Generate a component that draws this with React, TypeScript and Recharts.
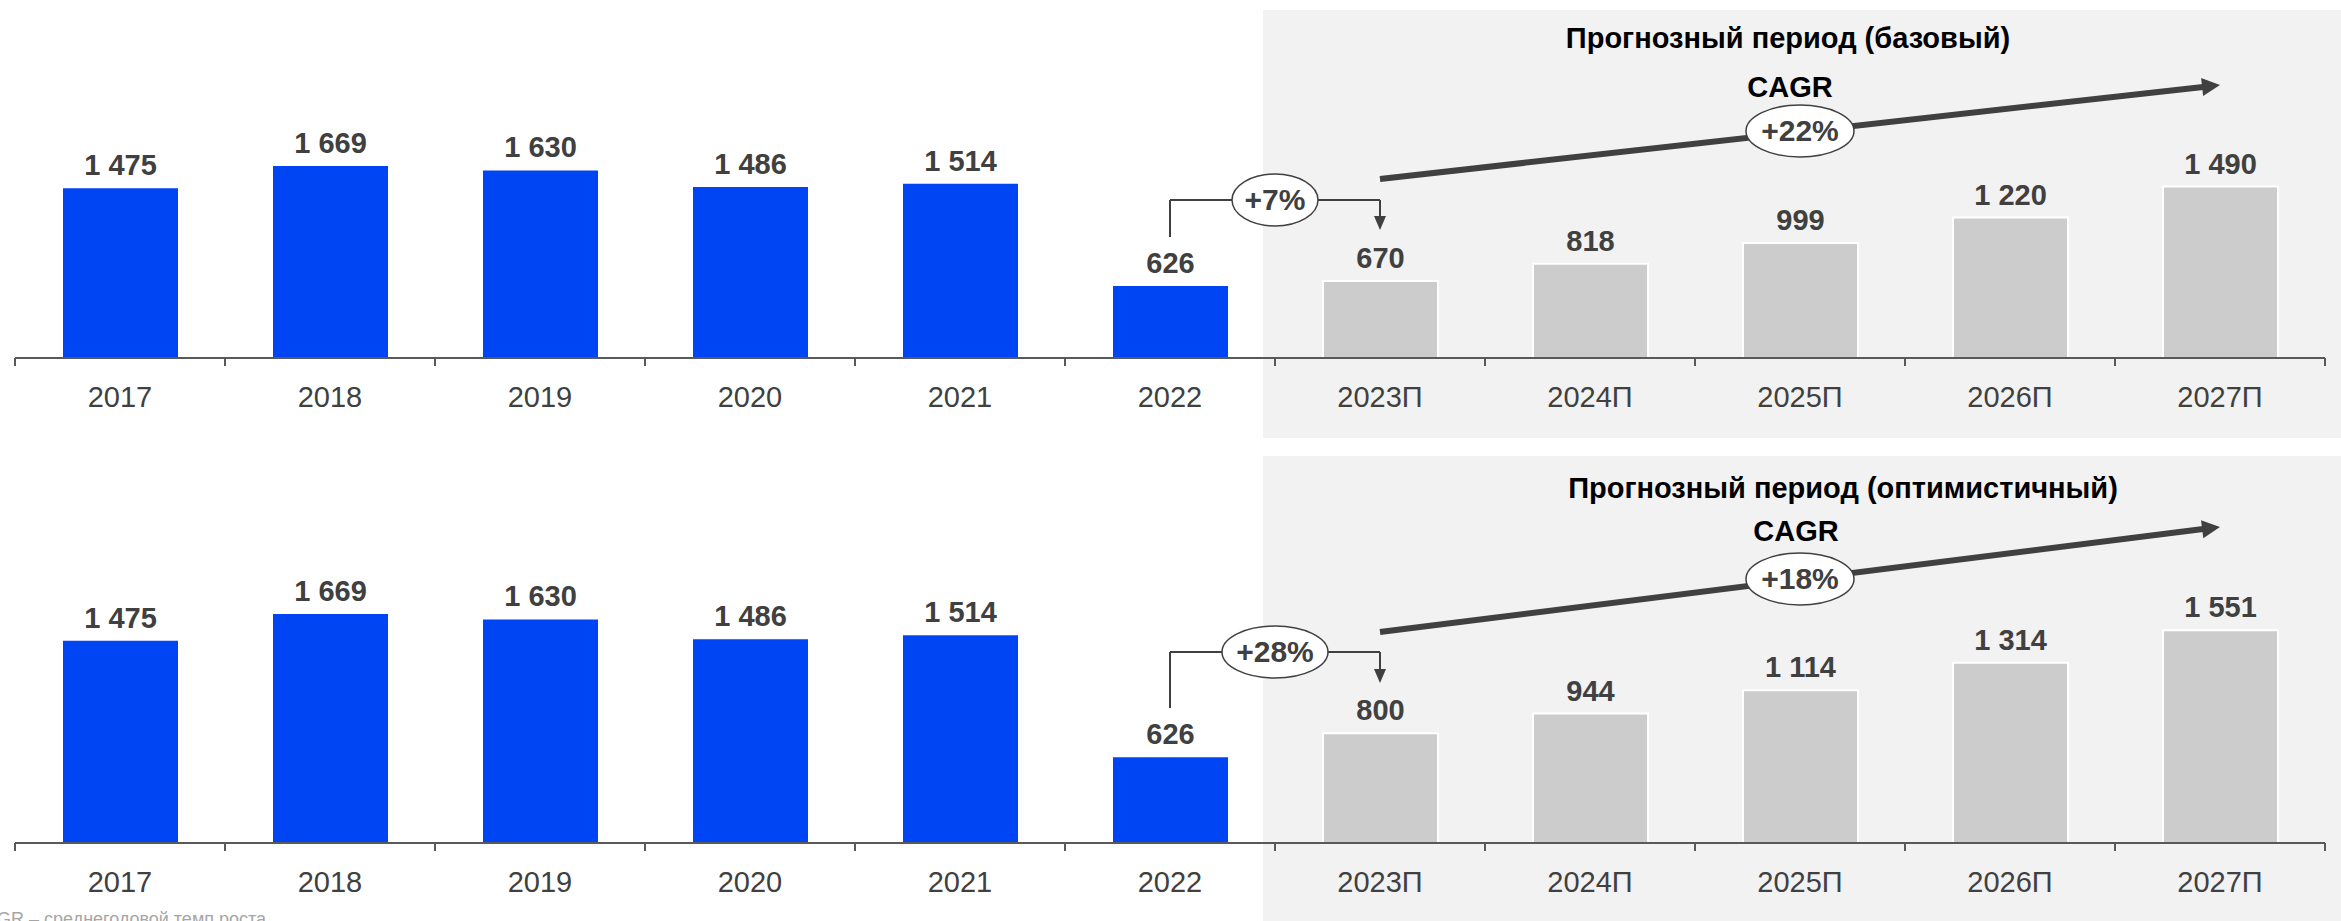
import React from 'react';
import { BarChart, Bar, XAxis, YAxis, Cell, LabelList, ReferenceLine, ReferenceDot } from 'recharts';

// chart values
const years = ['2017', '2018', '2019', '2020', '2021', '2022', '2023П', '2024П', '2025П', '2026П', '2027П'];
const baseValues = [1475, 1669, 1630, 1486, 1514, 626, 670, 818, 999, 1220, 1490];
const optimisticValues = [1475, 1669, 1630, 1486, 1514, 626, 800, 944, 1114, 1314, 1551];
const firstForecastIndex = 6;
const panelTitles = ['Прогнозный период (базовый)', 'Прогнозный период (оптимистичный)'];
const cagrLabels = ['+22%', '+18%'];
const firstYearLabels = ['+7%', '+28%'];

const W = 2341;
const PLOT_L = 15;
const PLOT_R = 16;
const PLOT_W = W - PLOT_L - PLOT_R;
const BLUE = '#0045F3';
const GREY_BAR = '#CCCCCC';
const DARK = '#404040';
const FONT = '"Liberation Sans", Arial, sans-serif';

const fmt = (v: number) => String(v).replace(/\B(?=(\d{3})+(?!\d))/g, ' ');

const toRows = (vals: number[]) => years.map((year, i) => ({ year, i, v: vals[i] }));

const Tick = (props: any) => {
  const { x, y, payload, index } = props;
  const bw = PLOT_W / years.length;
  return (
    <g>
      <line x1={x - bw / 2} x2={x - bw / 2} y1={y} y2={y + 8} stroke="#595959" strokeWidth={2} />
      {index === years.length - 1 && (
        <line x1={x + bw / 2} x2={x + bw / 2} y1={y} y2={y + 8} stroke="#595959" strokeWidth={2} />
      )}
      <text x={x} y={y + 49} textAnchor="middle" fontSize={29} fill={DARK} fontFamily={FONT}>
        {payload.value}
      </text>
    </g>
  );
};

const arrow = (sw: number, headLen: number, headW: number) => (p: any) => {
  const { x1, y1, x2, y2 } = p;
  const dx = x2 - x1;
  const dy = y2 - y1;
  const len = Math.hypot(dx, dy) || 1;
  const ux = dx / len;
  const uy = dy / len;
  const bx = x2 - ux * headLen;
  const by = y2 - uy * headLen;
  const px = -uy * headW / 2;
  const py = ux * headW / 2;
  return (
    <g>
      <line x1={x1} y1={y1} x2={bx + ux} y2={by + uy} stroke={DARK} strokeWidth={sw} />
      <polygon points={`${x2},${y2} ${bx + px},${by + py} ${bx - px},${by - py}`} fill={DARK} />
    </g>
  );
};

const plainLine = (p: any) => (
  <line x1={p.x1} y1={p.y1} x2={p.x2} y2={p.y2} stroke={DARK} strokeWidth={2} />
);

const bubble = (text: string, rx: number, ry: number) => (p: any) => (
  <g>
    <ellipse cx={p.cx} cy={p.cy} rx={rx} ry={ry} fill="#ffffff" stroke={DARK} strokeWidth={1.5} />
    <text x={p.cx} y={p.cy + 10} textAnchor="middle" fontSize={30} fontWeight="bold" fill={DARK} fontFamily={FONT}>
      {text}
    </text>
  </g>
);

interface PanelProps {
  values: number[];
  height: number;
  axisH: number;
  yMax: number;
  cagr: string;
  step: string;
  cagrFrom: number;
  cagrTo: number;
  cagrMid: number;
  stepStart: number;
  stepTop: number;
  stepEnd: number;
  stepRx: number;
}

const Panel: React.FC<PanelProps> = (p) => {
  const data = toRows(p.values);
  return (
    <BarChart
      width={W}
      height={p.height}
      data={data}
      margin={{ top: 0, right: PLOT_R, left: PLOT_L, bottom: 0 }}
      barSize={115}
    >
      <XAxis
        dataKey="year"
        interval={0}
        height={p.axisH}
        tickSize={0}
        tickMargin={0}
        tickLine={false}
        axisLine={{ stroke: '#595959', strokeWidth: 2 }}
        tick={<Tick />}
      />
      <XAxis xAxisId="n" type="number" dataKey="i" domain={[-0.5, years.length - 0.5]} hide />
      <YAxis hide domain={[0, p.yMax]} />
      <Bar dataKey="v" isAnimationActive={false}>
        {data.map((d, i) => (
          <Cell
            key={d.year}
            fill={i >= firstForecastIndex ? GREY_BAR : BLUE}
            stroke={i >= firstForecastIndex ? '#ffffff' : 'none'}
            strokeWidth={i >= firstForecastIndex ? 2 : 0}
          />
        ))}
        <LabelList
          dataKey="v"
          position="top"
          offset={13}
          formatter={(v: any) => fmt(Number(v))}
          fontSize={29}
          fontWeight="bold"
          fill={DARK}
          fontFamily={FONT}
        />
      </Bar>
      <ReferenceLine
        xAxisId="n"
        segment={[{ x: 6, y: p.cagrFrom }, { x: 10, y: p.cagrTo }]}
        shape={arrow(6, 18, 18)}
      />
      <ReferenceDot xAxisId="n" x={8} y={p.cagrMid} shape={bubble(p.cagr, 54, 26)} />
      <ReferenceLine xAxisId="n" segment={[{ x: 5, y: p.stepStart }, { x: 5, y: p.stepTop }]} shape={plainLine} />
      <ReferenceLine xAxisId="n" segment={[{ x: 5, y: p.stepTop }, { x: 6, y: p.stepTop }]} shape={plainLine} />
      <ReferenceLine
        xAxisId="n"
        segment={[{ x: 6, y: p.stepTop }, { x: 6, y: p.stepEnd }]}
        shape={arrow(2, 14, 12)}
      />
      <ReferenceDot xAxisId="n" x={5.5} y={p.stepTop} shape={bubble(p.step, p.stepRx, 26)} />
    </BarChart>
  );
};

const App: React.FC = () => (
  <div style={{ position: 'relative', width: W, height: 921, overflow: 'hidden', background: '#fff', fontFamily: FONT }}>
    <style>{'body{margin:0}'}</style>
    <div style={{ position: 'absolute', left: 1263, top: 10, width: W - 1263, height: 428, background: '#F2F2F2' }} />
    <div style={{ position: 'absolute', left: 1263, top: 456, width: W - 1263, height: 465, background: '#F2F2F2' }} />
    <div style={{ position: 'absolute', left: 0, top: 0 }}>
      <Panel
        values={baseValues}
        height={440}
        axisH={82}
        yMax={3111}
        cagr={cagrLabels[0]}
        step={firstYearLabels[0]}
        cagrFrom={1556}
        cagrTo={2372}
        cagrMid={1973}
        stepStart={1051}
        stepTop={1373}
        stepEnd={1112}
        stepRx={43}
      />
    </div>
    <div style={{ position: 'absolute', left: 0, top: 440 }}>
      <Panel
        values={optimisticValues}
        height={481}
        axisH={78}
        yMax={2938}
        cagr={cagrLabels[1]}
        step={firstYearLabels[1]}
        cagrFrom={1538}
        cagrTo={2304}
        cagrMid={1925}
        stepStart={984}
        stepTop={1392}
        stepEnd={1166}
        stepRx={53}
      />
    </div>
    <svg width={W} height={921} style={{ position: 'absolute', left: 0, top: 0, pointerEvents: 'none' }}>
      <g fontFamily={FONT} fontWeight="bold" fontSize={29} fill="#000" textAnchor="middle">
        <text x={1788} y={48}>{panelTitles[0]}</text>
        <text x={1790} y={97}>CAGR</text>
        <text x={1843} y={498}>{panelTitles[1]}</text>
        <text x={1796} y={541}>CAGR</text>
      </g>
      <text x={-28} y={925} fontFamily={FONT} fontSize={18} fill="#A6A6A6">
        CAGR – среднегодовой темп роста
      </text>
    </svg>
  </div>
);

export default App;
